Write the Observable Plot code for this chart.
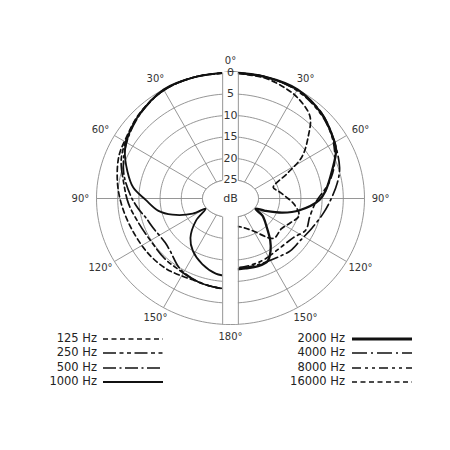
<!DOCTYPE html>
<html><head><meta charset="utf-8">
<script src="https://cdn.jsdelivr.net/npm/d3@7"></script>
<script src="https://cdn.jsdelivr.net/npm/@observablehq/plot@0.6"></script>
<style>
body{margin:0;background:#fff;}
#wrap{position:relative;width:450px;height:450px;font-family:"DejaVu Sans",sans-serif;}
.lab{position:absolute;font-size:11.5px;line-height:14px;color:#222;white-space:nowrap;text-align:right;}
.sw{position:absolute;}
</style></head><body><div id="wrap"></div>
<script>
// ---- data (angle in degrees from front, level in dB below on-axis) ----
const ang125 = [0,15,30,45,58,68,82,95,110,126,140,151,157,165,175,180];
const db125  = [0,0,0.2,1.3,2.6,3.2,4.7,6.0,7.1,7.6,8.0,8.6,8.8,8.6,8.3,8.3];
const ang250 = [0,15,30,45,58,69,81,93,106,120,135,146,156,165,175,180];
const db250  = [0,0,0.2,1.4,2.8,4.0,6.1,7.5,9.0,9.8,9.6,9.5,9.0,8.6,8.3,8.3];
const ang500 = [0,15,30,45,60,75,88,97,104,113,127,134,147,160,172,180];
const db500  = [0,0,0.2,1.5,3.3,5.5,8.0,9.7,11.0,11.8,12.3,11.8,9.8,8.8,8.4,8.3];
const ang1000 = [0,15,30,47,57,64,74,83,91,101,108,117,121,129,139,148,159,170,180];
const db1000  = [0,0,0,1.6,2.8,3.9,6.3,8.5,11.6,14.3,17.2,21.6,24.8,21.1,17.2,14.9,13.0,11.6,11.2];
const ang2000 = [0,15,30,45,58,64,73,85,91,101,108,115,121,125,134,141,146,152,160,169,180];
const db2000  = [0,0,0,1.3,3.0,3.9,6.5,9.1,10.6,15,18.7,22.6,24.8,22.4,19.7,16.7,14.7,12.9,12.6,12.8,12.8];
const ang4000 = [0,15,30,45,58,73,81,91,100,112,124,134,142,157,170,180];
const db4000  = [0,0,0.2,1.2,3.0,4.7,6.1,8.0,9.4,10.9,11.8,11.9,12.4,12.9,13.0,13.0];
const ang8000 = [0,15,30,45,58,70,80,93,105,115,125,139,155,170,180];
const db8000  = [0,0,0.3,1.5,3.2,5.5,8.0,11.5,12.3,12.0,13.5,14.0,13.5,13.2,13.2];
const ang16000 = [0,15,25,32,42,49,57,63,72,80,88,96,106,115,125,137,151,163,180];
const db16000  = [0,0.3,1.0,1.7,3.6,7.3,11.5,16.6,21,20,18.5,16.5,14.8,16.0,17,16.7,20.8,22.4,23];

const freqLabels = ["125 Hz","250 Hz","500 Hz","1000 Hz","2000 Hz","4000 Hz","8000 Hz","16000 Hz"];
const seriesAngles = [ang125,ang250,ang500,ang1000,ang2000,ang4000,ang8000,ang16000];
const seriesLevels = [db125,db250,db500,db1000,db2000,db4000,db8000,db16000];
const seriesSide = [-1,-1,-1,-1,1,1,1,1];
const seriesDash = ["5,3.5","13,3.5,4,3.5,4,3.5","13,3.5,2,3.5",null,null,"15,4,2,4","9,4,3,4,3,4","5,3.5"];
const seriesWidth = [1.7,1.7,1.7,1.8,2.3,1.7,1.7,1.7];

const ringLevels = [0,5,10,15,20,25];
const spokeAngles = [30,60,90,120,150,-30,-60,-90,-120,-150];
const angleLabels = [0,30,60,90,120,150,180,-30,-60,-90,-120,-150];

// ---- geometry (the original drawing's rings are slightly elliptical) ----
const RX = 31.6, RY = 29.4, BAND = 1.85;
const rad = t => t*Math.PI/180;
const px = (t,db) => (RX-db)*Math.sin(rad(t));
const py = (t,db) => (RY-db)*Math.cos(rad(t));

const ringPts = ringLevels.flatMap(db => d3.range(0,361,2).map(t => ({db,t})));
const innerPts = d3.range(0,361,2).map(t => ({t, db:25}));
const rows = seriesAngles.map((a,i) => a.map((t,j) => ({t: seriesSide[i]*t, db: seriesLevels[i][j]})));
const bandTop = Math.sqrt(1-(BAND/(RX-25))**2);
const bandSides = [-BAND, BAND];

const grid = "#8a8a8a";
const chart = Plot.plot({
  width:450, height:450,
  marginLeft:96, marginRight:86, marginTop:72, marginBottom:126,
  x:{domain:[-RX,RX], axis:null},
  y:{domain:[-RY,RY], axis:null},
  style:{fontFamily:"DejaVu Sans, sans-serif", background:"white", overflow:"visible"},
  marks:[
    Plot.line(ringPts, {x:d=>px(d.t,d.db), y:d=>py(d.t,d.db), z:"db", stroke:grid, strokeWidth:0.9}),
    Plot.link(spokeAngles, {x1:t=>px(t,25), y1:t=>py(t,25), x2:t=>px(t,0), y2:t=>py(t,0), stroke:grid, strokeWidth:0.9}),
    ...rows.map((r,i) => Plot.line(r, {x:d=>px(d.t,d.db), y:d=>py(d.t,d.db), stroke:"#111",
        strokeWidth:seriesWidth[i], strokeDasharray:seriesDash[i] || undefined, curve:"catmull-rom"})),
    Plot.line(innerPts, {x:d=>px(d.t,d.db), y:d=>py(d.t,d.db), fill:"white", stroke:grid, strokeWidth:0.9}),
    Plot.rect([0], {x1:-BAND, x2:BAND, y1:-RY, y2:RY, fill:"white"}),
    Plot.link(bandSides.flatMap(x => [{x, s:1},{x, s:-1}]), {
      x1:d=>d.x, x2:d=>d.x,
      y1:d=>d.s*(RY-25)*bandTop,
      y2:d=>d.s*RY*Math.sqrt(1-(d.x/RX)**2),
      stroke:grid, strokeWidth:0.9}),
    Plot.text(ringLevels, {x:0, y:db=>RY-db, text:db=>String(db), fontSize:11, fill:"#333"}),
    Plot.text(["dB"], {x:0, y:0, text:d=>d, fontSize:11, fill:"#333"}),
    Plot.text(angleLabels, {x:t=>px(t,-3.8), y:t=>py(t,-2.8), text:t=>Math.abs(t)+"°", fontSize:10, fill:"#333"})
  ]
});
const wrap = document.getElementById("wrap");
wrap.appendChild(chart);

// ---- legend ----
const rowTop = [331,345,360,374];
freqLabels.forEach((lab,i) => {
  const col = i < 4 ? 0 : 1;
  const r = i % 4;
  const labRight = col === 0 ? 97 : 345;
  const swLeft = col === 0 ? 103 : 352;
  const d = document.createElement("div");
  d.className = "lab";
  d.style.right = (450-labRight)+"px";
  d.style.top = rowTop[r]+"px";
  d.textContent = lab;
  wrap.appendChild(d);
  const ns = "http://www.w3.org/2000/svg";
  const s = document.createElementNS(ns,"svg");
  s.setAttribute("class","sw");
  s.setAttribute("width","60"); s.setAttribute("height","8");
  s.style.left = swLeft+"px"; s.style.top = (rowTop[r]+4)+"px";
  const l = document.createElementNS(ns,"line");
  l.setAttribute("x1","0"); l.setAttribute("x2","60"); l.setAttribute("y1","4"); l.setAttribute("y2","4");
  l.setAttribute("stroke","#111");
  l.setAttribute("stroke-width", i===4 ? 3 : (i===3 ? 2 : 1.7));
  if (seriesDash[i]) l.setAttribute("stroke-dasharray", seriesDash[i]);
  s.appendChild(l);
  wrap.appendChild(s);
});
</script></body></html>
